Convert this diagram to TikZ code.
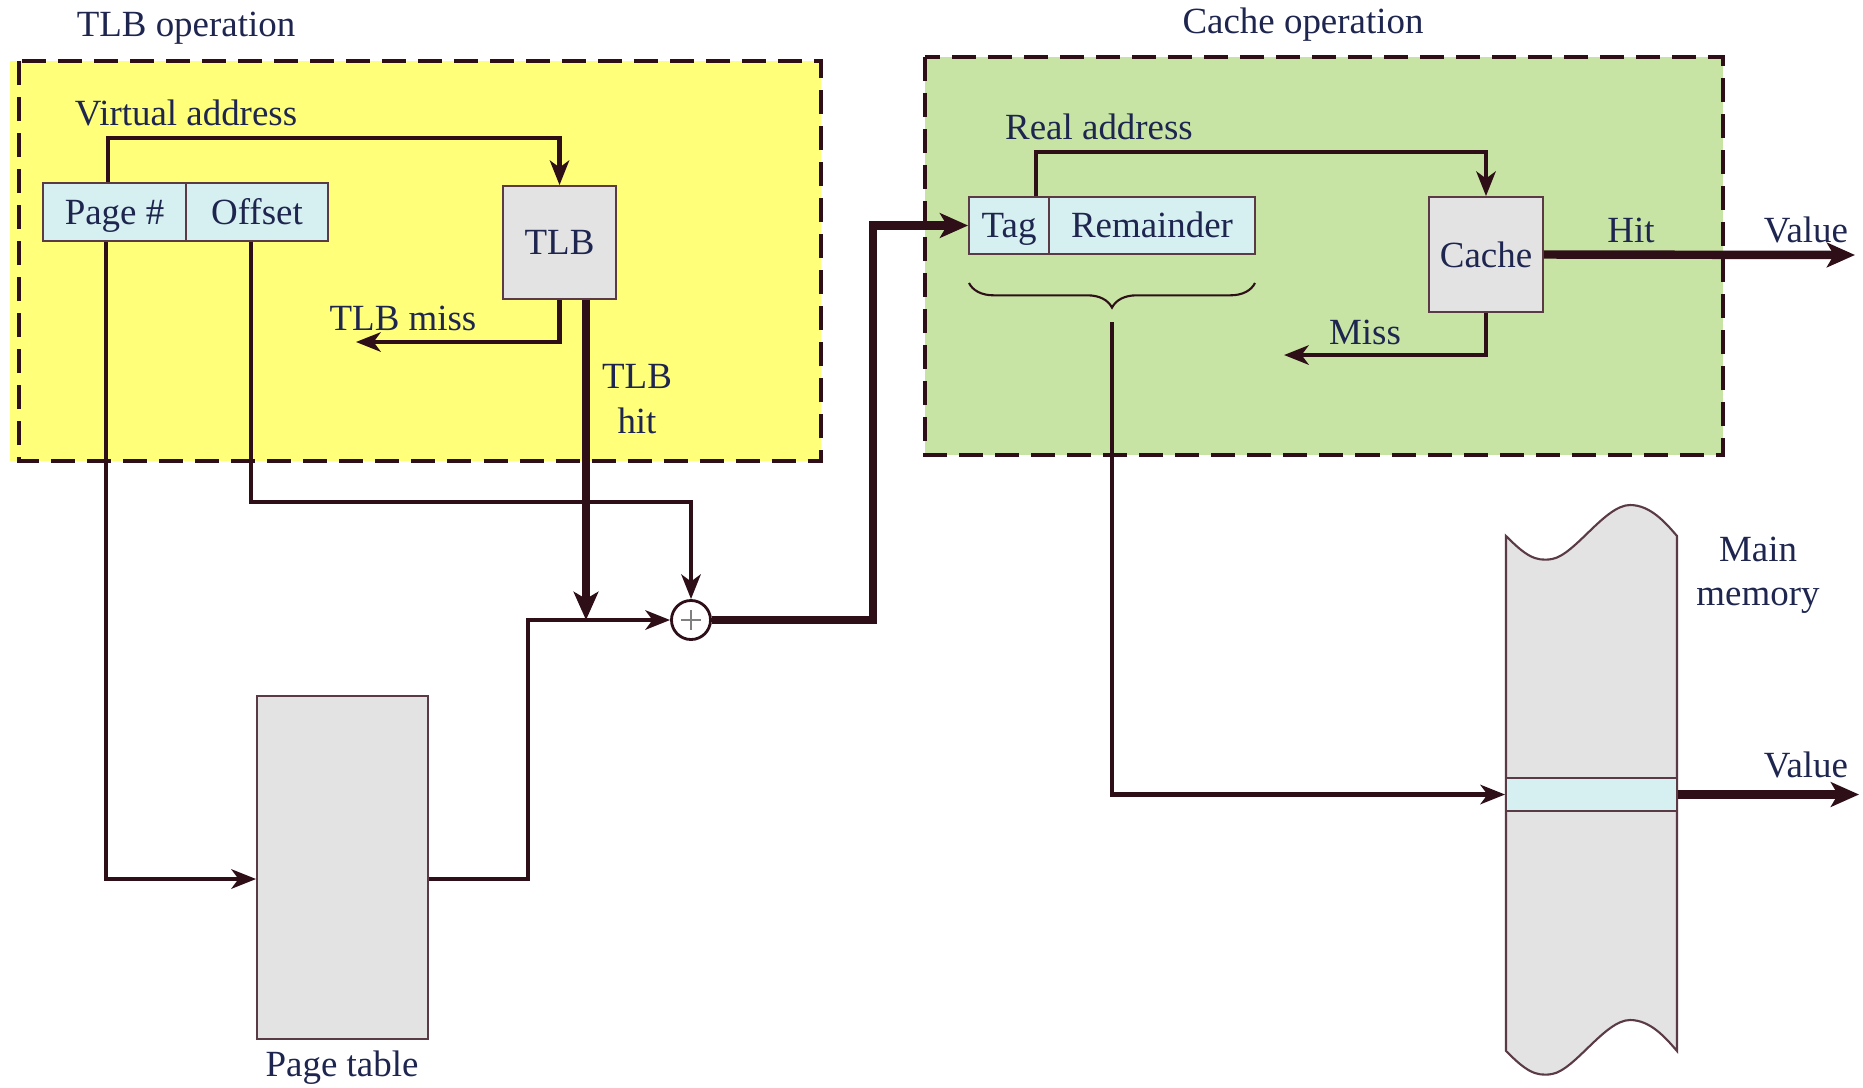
\documentclass[tikz,border=0pt]{standalone}
\usepackage{fontspec}
\setmainfont{Liberation Serif}
\usetikzlibrary{arrows.meta,decorations.pathreplacing,calc}
\definecolor{lnc}{HTML}{2E0F18}
\definecolor{txc}{HTML}{1E2650}
\definecolor{yel}{HTML}{FFFF7A}
\definecolor{grn}{HTML}{C8E4A5}
\definecolor{cyanbox}{HTML}{D6EFF0}
\definecolor{greybox}{HTML}{E3E3E3}
\definecolor{bdr}{HTML}{5A3A44}
\tikzset{
  lbl/.style={text=txc,font=\fontsize{10.5}{12.6}\selectfont,inner sep=0pt},
  fieldbox/.style={draw=bdr,line width=0.5pt,fill=cyanbox,text=txc,font=\fontsize{10.5}{12.6}\selectfont,minimum height=0.58cm,inner sep=0pt,text height=7.2pt,text depth=0.3pt},
  unitbox/.style={draw=bdr,line width=0.5pt,fill=greybox,text=txc,font=\fontsize{10.5}{12.6}\selectfont,inner sep=0pt},
  conn/.style={draw=lnc,line width=1.2pt,-{Stealth[length=7pt,width=5.5pt,inset=2pt]}},
  thickconn/.style={draw=lnc,line width=2.4pt,-{Stealth[length=8pt,width=7pt,inset=2pt]}},
  region/.style={draw=lnc,line width=1.3pt,dash pattern=on 0.24cm off 0.12cm},
}
\begin{document}
\begin{tikzpicture}[x=0.01cm,y=-0.01cm]
\useasboundingbox (0,0) rectangle (1863,1087);
% regions
\fill[yel] (10,61) rectangle (821,461);
\draw[region] (19,61) rectangle (821,461);
\fill[grn] (925,57) rectangle (1723,455);
\draw[region] (925,57) rectangle (1723,455);
\node[lbl] (tlbop) at (186,28) {TLB operation};
\node[lbl] (cacheop) at (1303,25) {Cache operation};
% TLB part
\node[fieldbox,minimum width=1.43cm] (pg) at (114.5,212) {Page \#};
\node[fieldbox,minimum width=1.42cm] (off) at (257,212) {Offset};
\node[unitbox,minimum width=1.13cm,minimum height=1.13cm] (tlb) at (559.5,242.5) {TLB};
\node[lbl] (valbl) at (186,113) {Virtual address};
\node[lbl] (misslbl) at (403,318) {TLB miss};
\node[lbl,align=center] (hitlbl) at (637,399) {TLB\\hit};
\node[unitbox,minimum width=1.71cm,minimum height=3.43cm] (pt) at (342.5,867.5) {};
\node[lbl] (ptlbl) at (342,1068) {Page table};
\node[draw=lnc,line width=0.8pt,fill=white,circle,minimum size=0.39cm,inner sep=0pt] (plus) at (691,620) {};
\draw[gray,line width=0.4pt] ($(plus.center)+(-10,0)$) -- ($(plus.center)+(10,0)$);
\draw[gray,line width=0.4pt] ($(plus.center)+(0,-10)$) -- ($(plus.center)+(0,10)$);
\coordinate (missend) at (356,342);
\coordinate (junc) at (586,620);
\coordinate (bend) at (528,620);
% cache part
\node[fieldbox,minimum width=0.80cm,minimum height=0.57cm] (tag) at (1009,225.5) {Tag};
\node[fieldbox,minimum width=2.06cm,minimum height=0.57cm] (rem) at (1152,225.5) {Remainder};
\node[unitbox,minimum width=1.14cm,minimum height=1.15cm] (cache) at (1486,254.5) {Cache};
\node[lbl] (ralbl) at (1099,127) {Real address};
\node[lbl] (hitl) at (1631,230) {Hit};
\node[lbl] (val1) at (1806,230) {Value};
\node[lbl] (missl) at (1365,332) {Miss};
\coordinate (hitend) at (1855,255);
\coordinate (cmissend) at (1284,355);
\coordinate (brtop) at (1112,322);
% main memory
\path[draw=bdr,line width=0.6pt,fill=greybox] (1506,536) .. controls (1525,555) and (1535,562) .. (1552,559) .. controls (1575,555) and (1605,505) .. (1630,505) .. controls (1650,505) and (1665,522) .. (1677,536) -- (1677,1051) .. controls (1665,1037) and (1650,1020) .. (1630,1020) .. controls (1605,1020) and (1575,1070) .. (1552,1074) .. controls (1535,1077) and (1525,1070) .. (1506,1051) -- cycle;
\node[fieldbox,minimum width=1.71cm,minimum height=0.33cm,text height=0pt,text depth=0pt] (cell) at (1591.5,794.5) {};
\node[lbl,align=center] (mmlbl) at (1758,575) {Main\\memory};
\node[lbl] (val2) at (1806,765) {Value};
\coordinate (valend) at (1859,794.5);
% connectors TLB side
\draw[conn] (108,0 |- pg.north) -- (108,138) -| (tlb.north);
\draw[conn] (tlb.south) |- (missend);
\draw[thickconn] (586,0 |- tlb.south) -- (junc);
\draw[conn] (251,0 |- off.south) -- (251,502) -| (plus.north);
\draw[conn] (106,0 |- pg.south) -- (106,879) -- (pt.west |- 0,879);
\draw[conn] (pt.east |- 0,879) -| (bend) -- (plus.west);
\draw[thickconn] (plus.east) -| (873,0 |- tag.west) -- (tag.west);
% connectors cache side
\draw[conn] (1036,0 |- tag.north) -- (1036,152) -| (cache.north);
\draw[thickconn] (cache.east) -- (hitend);
\draw[conn] (cache.south) |- (cmissend);
\draw[draw=lnc,line width=0.6pt,decorate,decoration={brace,mirror,amplitude=7pt}] (969,283) -- (1255,283);
\draw[conn] (brtop) |- (cell.west);
\draw[thickconn] (cell.east) -- (valend);
\end{tikzpicture}
\end{document}
